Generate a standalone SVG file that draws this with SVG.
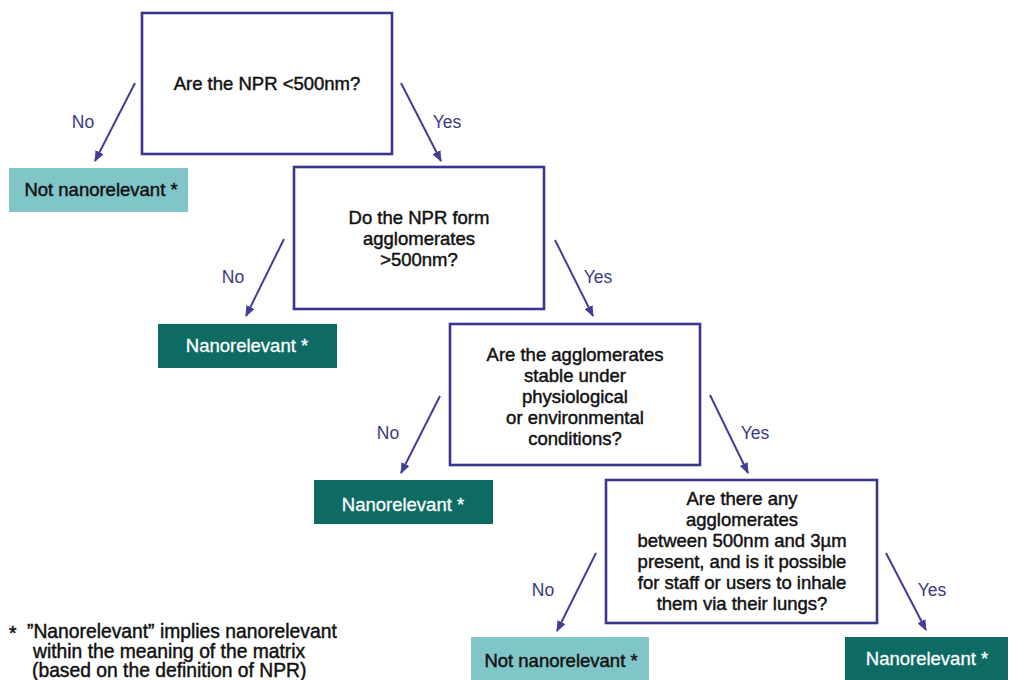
<svg xmlns="http://www.w3.org/2000/svg" width="1011" height="680" viewBox="0 0 1011 680">
<style>
text{font-family:"Liberation Sans",Arial,sans-serif;font-size:18.5px}
.q{fill:#ffffff;stroke:#3a3690;stroke-width:2.6}
.qt{fill:#111111;text-anchor:middle;stroke:#111111;stroke-width:0.45}
.light{fill:#80c5c8}
.dark{fill:#0e6b63}
.lt{fill:#111111;text-anchor:middle;stroke:#111111;stroke-width:0.45}
.dt{fill:#ffffff;text-anchor:middle;stroke:#ffffff;stroke-width:0.3}
.lbl{fill:#3b3a80;text-anchor:middle;font-size:17.5px}
.arr{stroke:#443d98;stroke-width:2;fill:none;marker-end:url(#ah)}
.fn{fill:#111111;stroke:#111111;stroke-width:0.45;font-size:19.3px}
</style>
<defs>
<marker id="ah" markerUnits="userSpaceOnUse" markerWidth="11" markerHeight="9" refX="10" refY="4.5" orient="auto">
<path d="M0,0 L11,4.5 L0,9 z" fill="#443d98"/>
</marker>
</defs>
<rect width="1011" height="680" fill="#ffffff"/>
<g id="connectors">
<line class="arr" x1="135" y1="83" x2="95" y2="161"/>
<line class="arr" x1="401" y1="83" x2="441" y2="161"/>
<line class="arr" x1="284" y1="239" x2="246" y2="316"/>
<line class="arr" x1="555" y1="240" x2="593" y2="316"/>
<line class="arr" x1="440" y1="396" x2="401" y2="473"/>
<line class="arr" x1="710" y1="395" x2="748" y2="473"/>
<line class="arr" x1="596" y1="553" x2="557" y2="631"/>
<line class="arr" x1="886" y1="553" x2="926" y2="630"/>
<text class="lbl" x="83" y="128">No</text>
<text class="lbl" x="447" y="128">Yes</text>
<text class="lbl" x="233" y="283">No</text>
<text class="lbl" x="598" y="283">Yes</text>
<text class="lbl" x="388" y="439">No</text>
<text class="lbl" x="755" y="439">Yes</text>
<text class="lbl" x="543" y="596">No</text>
<text class="lbl" x="932" y="596">Yes</text>
</g>
<g id="q1">
<rect class="q" x="142" y="13" width="250" height="141"/>
<text class="qt" x="267" y="90">Are the NPR &lt;500nm?</text>
</g>
<g id="q2">
<rect class="q" x="294" y="167" width="250" height="142"/>
<text class="qt" x="419" y="224">Do the NPR form</text>
<text class="qt" x="419" y="245">agglomerates</text>
<text class="qt" x="419" y="266">&gt;500nm?</text>
</g>
<g id="q3">
<rect class="q" x="450" y="324" width="250" height="141"/>
<text class="qt" x="575" y="361">Are the agglomerates</text>
<text class="qt" x="575" y="382">stable under</text>
<text class="qt" x="575" y="403">physiological</text>
<text class="qt" x="575" y="424">or environmental</text>
<text class="qt" x="575" y="445">conditions?</text>
</g>
<g id="q4">
<rect class="q" x="606" y="480" width="271" height="143"/>
<text class="qt" x="742" y="505">Are there any</text>
<text class="qt" x="742" y="526">agglomerates</text>
<text class="qt" x="742" y="547">between 500nm and 3µm</text>
<text class="qt" x="742" y="568">present, and is it possible</text>
<text class="qt" x="742" y="589">for staff or users to inhale</text>
<text class="qt" x="742" y="610">them via their lungs?</text>
</g>
<g id="t1">
<rect class="light" x="9" y="168" width="179" height="44"/>
<text class="lt" x="101" y="196">Not nanorelevant *</text>
</g>
<g id="t2">
<rect class="dark" x="158" y="324" width="179" height="44"/>
<text class="dt" x="247" y="352">Nanorelevant *</text>
</g>
<g id="t3">
<rect class="dark" x="314" y="480" width="179" height="44"/>
<text class="dt" x="403" y="511">Nanorelevant *</text>
</g>
<g id="t4">
<rect class="light" x="471" y="637" width="178" height="46"/>
<text class="lt" x="561" y="667">Not nanorelevant *</text>
</g>
<g id="t5">
<rect class="dark" x="845" y="637" width="163" height="46"/>
<text class="dt" x="927" y="665">Nanorelevant *</text>
</g>
<g id="footnote">
<text class="fn" x="9" y="640">*</text>
<text class="fn" x="27" y="638">”Nanorelevant” implies nanorelevant</text>
<text class="fn" x="33" y="658">within the meaning of the matrix</text>
<text class="fn" x="32" y="677">(based on the definition of NPR)</text>
</g>
</svg>
